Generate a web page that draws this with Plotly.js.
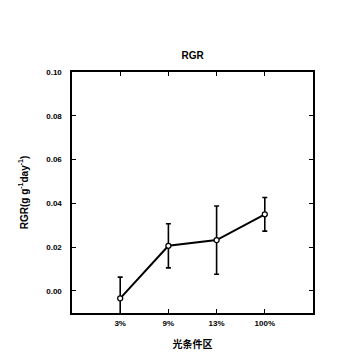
<!DOCTYPE html>
<html><head><meta charset="utf-8">
<script src="https://cdn.plot.ly/plotly-3.0.1.min.js"></script>
<style>body{margin:0;padding:0;background:#fff}#chart{width:360px;height:360px}</style>
</head><body><div id="chart"></div>
<script>
var categories = ["3%", "9%", "13%", "100%"];
var rgr = [-0.0034, 0.0206, 0.0232, 0.0350];
var errs = [0.0097, 0.0101, 0.0156, 0.0077];
var yTicks = [0.00, 0.02, 0.04, 0.06, 0.08, 0.10];
var yTickText = ["0.00", "0.02", "0.04", "0.06", "0.08", "0.10"];

var trace = {
  x: [0, 1, 2, 3],
  y: rgr,
  type: "scatter",
  mode: "lines+markers",
  line: {color: "#000", width: 2},
  marker: {symbol: "circle", size: 5, color: "#fff", line: {color: "#000", width: 1.3}},
  error_y: {type: "data", array: errs, visible: true, color: "#000", thickness: 1.6, width: 2.5},
  cliponaxis: true,
  hoverinfo: "none"
};

var fontB = "Liberation Sans, Arial, sans-serif";
var layout = {
  width: 360, height: 360,
  margin: {l: 72, r: 47, t: 72, b: 47},
  paper_bgcolor: "#fff", plot_bgcolor: "#fff",
  showlegend: false,
  title: {text: "<b>RGR</b>", font: {family: fontB, size: 10, color: "#000"}, x: 0.535, xanchor: "center", y: 0.845, yanchor: "middle"},
  xaxis: {
    range: [-1, 4],
    tickmode: "array", tickvals: [0, 1, 2, 3], ticktext: categories.map(function(c){return "<b>"+c+"</b>";}),
    ticks: "inside", ticklen: 4, tickwidth: 1.2, tickcolor: "#000",
    ticklabelstandoff: 2,
    showline: true, linecolor: "#000", linewidth: 1.6, mirror: "ticks",
    showgrid: false, zeroline: false,
    tickfont: {family: fontB, size: 8, color: "#000"},
    title: {text: "<b>光条件区</b>", font: {family: "Noto Sans CJK SC, sans-serif", size: 10, color: "#000"}, standoff: 14}
  },
  yaxis: {
    range: [-0.0101, 0.10],
    tickmode: "array", tickvals: yTicks, ticktext: yTickText.map(function(c){return "<b>"+c+"</b>";}),
    ticks: "inside", ticklen: 4, tickwidth: 1.2, tickcolor: "#000",
    ticklabelstandoff: 7,
    showline: true, linecolor: "#000", linewidth: 1.6, mirror: "ticks",
    showgrid: false, zeroline: false,
    tickfont: {family: fontB, size: 8, color: "#000"},
    title: {text: "<b>RGR(g g<sup>-1</sup>day<sup>-1</sup>)</b>", font: {family: fontB, size: 10, color: "#000"}, standoff: 16}
  }
};

Plotly.newPlot("chart", [trace], layout, {staticPlot: true, displayModeBar: false});
</script>
</body></html>
